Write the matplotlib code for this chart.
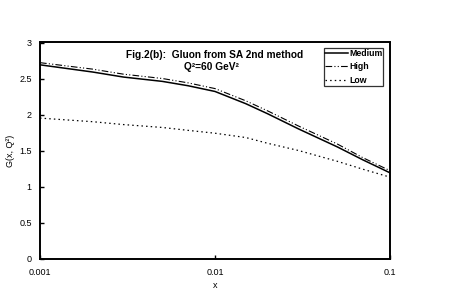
import matplotlib
matplotlib.use("Agg")
import matplotlib.pyplot as plt

plt.rcParams["font.family"] = ["Liberation Sans", "DejaVu Sans"]

x_vals = [0.001, 0.002, 0.003, 0.005, 0.007, 0.01, 0.015, 0.02, 0.03, 0.05, 0.07, 0.1]
medium = [2.69, 2.59, 2.52, 2.46, 2.40, 2.32, 2.15, 2.01, 1.80, 1.55, 1.37, 1.19]
high = [2.72, 2.63, 2.56, 2.50, 2.44, 2.36, 2.19, 2.05, 1.84, 1.59, 1.40, 1.22]
low = [1.95, 1.90, 1.86, 1.82, 1.78, 1.74, 1.68, 1.60, 1.50, 1.35, 1.24, 1.13]

x_ticks = [0.001, 0.01, 0.1]
x_ticklabels = ["0.001", "0.01", "0.1"]
y_ticks = [0, 0.5, 1, 1.5, 2, 2.5, 3]
y_ticklabels = ["0", "0.5", "1", "1.5", "2", "2.5", "3"]

fig = plt.figure(figsize=(4.75, 2.95), dpi=100)
ax = fig.add_axes([40 / 475, 36.5 / 295, 350 / 475, 216 / 295])

ax.plot(x_vals, medium, color="black", linestyle="-", linewidth=1.1, label="Medium")
ax.plot(x_vals, high, color="black", linestyle=(0, (6, 2, 1, 2, 1, 2)), linewidth=0.8, label="High")
ax.plot(x_vals, low, color="black", linestyle=(0, (1.2, 2.5)), linewidth=0.9, label="Low")

ax.set_xscale("log")
ax.set_xlim(0.001, 0.1)
ax.set_ylim(0, 3)
ax.set_xticks(x_ticks)
ax.set_xticklabels(x_ticklabels)
ax.minorticks_off()
ax.set_yticks(y_ticks)
ax.set_yticklabels(y_ticklabels)
ax.tick_params(direction="in", length=3, width=1, labelsize=6.5, pad=6)
ax.tick_params(axis="x", pad=7)
for s in ax.spines.values():
    s.set_linewidth(1.4)

ax.set_xlabel("x", fontsize=6.5, labelpad=3)
ax.set_ylabel("G(x, Q²)", fontsize=6.5, labelpad=3)

ax.text(0.499, 0.942, "Fig.2(b):  Gluon from SA 2nd method", transform=ax.transAxes,
        ha="center", va="center", fontsize=7.3, fontweight="bold")
ax.text(0.49, 0.888, "Q²=60 GeV²", transform=ax.transAxes,
        ha="center", va="center", fontsize=7.3, fontweight="bold")

leg = ax.legend(loc="upper right", bbox_to_anchor=(0.98, 0.9745), fontsize=6.3,
                frameon=True, fancybox=False, edgecolor="black", handlelength=2.7,
                handletextpad=0.05, borderpad=0.1, labelspacing=0.5, borderaxespad=0.0)
leg.get_frame().set_linewidth(0.9)
for t in leg.get_texts():
    t.set_fontweight("bold")

fig.savefig("out.png", dpi=100)
